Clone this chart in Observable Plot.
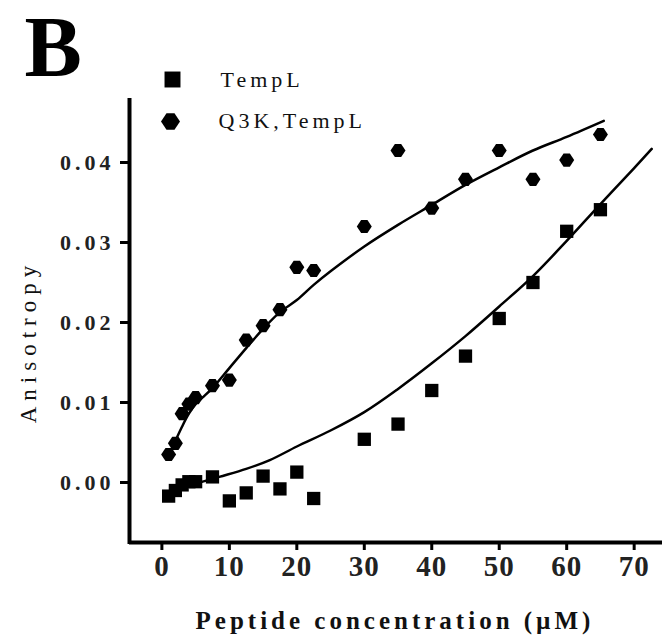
<!DOCTYPE html>
<html>
<head>
<meta charset="utf-8">
<script src="https://cdn.jsdelivr.net/npm/d3@7"></script>
<script src="https://cdn.jsdelivr.net/npm/@observablehq/plot@0.6"></script>
<style>
  body { margin: 0; background: #fff; }
  #chart svg g[aria-label="y-axis tick label"] text { letter-spacing: 4px; }
  #chart svg g[aria-label="x-axis tick label"] text { letter-spacing: 1px; }
  #chart svg .xtitle text { letter-spacing: 4px; }
  #chart svg .ytitle text { letter-spacing: 6px; }
  #chart svg .legtext text { letter-spacing: 4px; }
</style>
</head>
<body>
<div id="chart"></div>
<script>
// ---- data ----
const concentrations = [1, 2, 3, 4, 5, 7.5, 10, 12.5, 15, 17.5, 20, 22.5, 30, 35, 40, 45, 50, 55, 60, 65];
const templValues = [-0.0017, -0.0010, -0.0003, 0.0001, 0.0001, 0.0007, -0.0023, -0.0013, 0.0008, -0.0008,
                     0.0013, -0.0020, 0.0054, 0.0073, 0.0115, 0.0158, 0.0205, 0.0250, 0.0314, 0.0341];
const q3kValues = [0.0035, 0.0049, 0.0086, 0.0098, 0.0106, 0.0121, 0.0128, 0.0178, 0.0196, 0.0216,
                   0.0269, 0.0265, 0.0320, 0.0415, 0.0343, 0.0379, 0.0415, 0.0379, 0.0403, 0.0435];

// fitted curves
const q3kFitX = [1, 2, 3, 4, 5, 6, 7.5, 10, 12.5, 15, 17.5, 20, 22.5, 25, 30, 35, 40, 45, 50, 55, 60, 65.5];
const q3kFitY = [0.0033, 0.0052, 0.0070, 0.0086, 0.0098, 0.0106, 0.0118, 0.0143, 0.0168, 0.0192, 0.0213, 0.0228,
                 0.0247, 0.0264, 0.0295, 0.0322, 0.0347, 0.0372, 0.0394, 0.0415, 0.0432, 0.0452];
const templFitX = [1, 4, 8.5, 12.5, 16, 20, 25, 30, 35, 40, 45, 50, 55, 60, 65, 70, 72.6];
const templFitY = [-0.0013, -0.0004, 0.0007, 0.0017, 0.0028, 0.0045, 0.0065, 0.0088, 0.0117, 0.0149,
                   0.0183, 0.0220, 0.0258, 0.0302, 0.0348, 0.0393, 0.0417];

const seriesNames = ["TempL", "Q3K,TempL"];
const xTicks = [0, 10, 20, 30, 40, 50, 60, 70];
const yTicks = [0, 0.01, 0.02, 0.03, 0.04];
const xDomain = [-4.8, 74.2];
const yDomain = [-0.0075, 0.04775];
const panelLabel = "B";
const xTitle = "Peptide concentration (\u00b5M)";
const yTitle = "Anisotropy";

// ---- build tables ----
const templPts = concentrations.map((c, i) => ({x: c, y: templValues[i]}));
const q3kPts = concentrations.map((c, i) => ({x: c, y: q3kValues[i]}));
const q3kFit = q3kFitX.map((x, i) => ({x, y: q3kFitY[i]}));
const templFit = templFitX.map((x, i) => ({x, y: templFitY[i]}));

// blob-like diamond symbol
const blob = {
  draw(ctx, size) {
    const r = Math.sqrt(size / Math.PI);
    const a = r, b = r * 0.88, c = r * 0.42;
    ctx.moveTo(-a, 0);
    ctx.lineTo(-c, -b);
    ctx.lineTo(c, -b);
    ctx.lineTo(a, 0);
    ctx.lineTo(c, b);
    ctx.lineTo(-c, b);
    ctx.closePath();
  }
};

const font = "'Liberation Serif', 'Times New Roman', serif";

const chart = Plot.plot({
  width: 662,
  height: 639,
  marginTop: 100,
  marginLeft: 129,
  marginRight: 0,
  marginBottom: 97,
  style: {fontFamily: font, background: "#fff", color: "#000", overflow: "visible"},
  x: {domain: xDomain},
  y: {domain: yDomain},
  marks: [
    // axis lines
    Plot.ruleX([xDomain[0]], {stroke: "#000", strokeWidth: 4, strokeLinecap: "square"}),
    Plot.ruleY([yDomain[0]], {stroke: "#000", strokeWidth: 4}),
    Plot.axisY({ticks: yTicks, tickFormat: d3.format(".2f"), tickSize: 9, tickPadding: 6,
      fontSize: 22, fontWeight: "bold", stroke: "#000", strokeWidth: 3, fill: "#222", label: null}),
    Plot.axisX({ticks: xTicks, tickFormat: d => String(d), tickSize: 8, tickPadding: 5,
      fontSize: 29, fontWeight: "bold", stroke: "#000", strokeWidth: 3, fill: "#222", label: null}),
    // axis titles
    Plot.text([yTitle], {frameAnchor: "left", dx: -101, dy: 20, rotate: -90, fontSize: 23,
      textAnchor: "middle", lineAnchor: "middle", fill: "#111", text: d => d, className: "ytitle"}),
    Plot.text([xTitle], {frameAnchor: "bottom", dx: -1, dy: 78, fontSize: 25, fontWeight: "bold",
      textAnchor: "middle", lineAnchor: "middle", fill: "#111", text: d => d, className: "xtitle"}),
    // fitted curves
    Plot.line(templFit, {x: "x", y: "y", curve: "catmull-rom", stroke: "#000", strokeWidth: 2.5}),
    Plot.line(q3kFit, {x: "x", y: "y", curve: "catmull-rom", stroke: "#000", strokeWidth: 2.5}),
    // data points
    Plot.dot(templPts, {x: "x", y: "y", symbol: "square", r: 7.5, fill: "#000"}),
    Plot.dot(q3kPts, {x: "x", y: "y", symbol: blob, r: 7.5, fill: "#000"}),
    // panel label
    Plot.text([panelLabel], {frameAnchor: "top-left", dx: -105, dy: -52, fontSize: 86, fontWeight: "bold",
      textAnchor: "start", lineAnchor: "middle", fill: "#000", text: d => d}),
    // legend
    Plot.dot([seriesNames[0]], {frameAnchor: "top-left", dx: 43, dy: -21, symbol: "square", r: 9, fill: "#000"}),
    Plot.dot([seriesNames[1]], {frameAnchor: "top-left", dx: 41, dy: 21, symbol: blob, r: 9.5, fill: "#000"}),
    Plot.text([seriesNames[0]], {frameAnchor: "top-left", dx: 91, dy: -21, fontSize: 22, textAnchor: "start",
      lineAnchor: "middle", fill: "#111", text: d => d, className: "legtext"}),
    Plot.text([seriesNames[1]], {frameAnchor: "top-left", dx: 89, dy: 20, fontSize: 22, textAnchor: "start",
      lineAnchor: "middle", fill: "#111", text: d => d, className: "legtext"})
  ]
});
document.getElementById("chart").appendChild(chart);
</script>
</body>
</html>
